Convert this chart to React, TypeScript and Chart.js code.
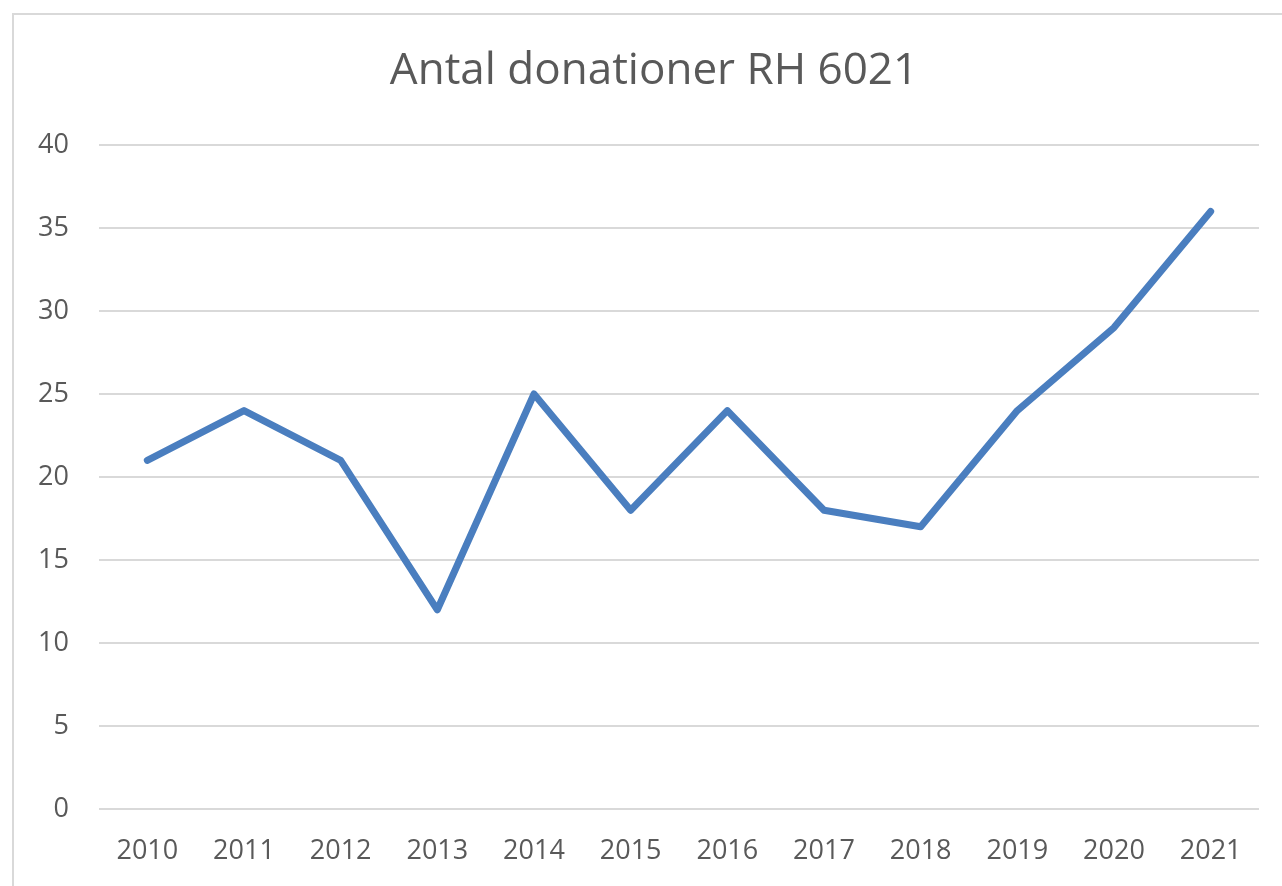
import React, { useEffect, useRef } from "react";
import { Chart, registerables } from "chart.js";

Chart.register(...registerables);

const years = ["2010", "2011", "2012", "2013", "2014", "2015", "2016", "2017", "2018", "2019", "2020", "2021"];
const donations = [21, 24, 21, 12, 25, 18, 24, 18, 17, 24, 29, 36];
const yTicks = [0, 5, 10, 15, 20, 25, 30, 35, 40];
const title = "Antal donationer RH 6021";

const centeredTitle = {
  id: "centeredTitle",
  afterDraw(chart: any) {
    const ctx = chart.ctx;
    ctx.save();
    ctx.font = "normal 44px 'Open Sans'";
    ctx.fillStyle = "#595959";
    ctx.textAlign = "center";
    ctx.textBaseline = "middle";
    ctx.fillText(title, chart.width / 2, 56);
    ctx.restore();
  },
};

export default function App() {
  const ref = useRef<HTMLCanvasElement | null>(null);
  useEffect(() => {
    if (!ref.current) return;
    const chart = new Chart(ref.current, {
      type: "line",
      data: {
        labels: years,
        datasets: [
          {
            data: donations,
            borderColor: "#4A7EBF",
            borderWidth: 7,
            pointRadius: 0,
            borderCapStyle: "round",
            borderJoinStyle: "round",
            tension: 0,
            fill: false,
          },
        ],
      },
      options: {
        animation: false,
        responsive: false,
        maintainAspectRatio: false,
        layout: { padding: { left: 0, right: 35, top: 130, bottom: 0 } },
        plugins: {
          legend: { display: false },
          tooltip: { enabled: false },
          title: { display: false },
        },
        scales: {
          x: {
            type: "category",
            offset: true,
            grid: { display: false, drawTicks: false },
            border: { display: false },
            ticks: {
              color: "#595959",
              font: { family: "'Open Sans'", size: 27 },
              padding: 26,
              maxRotation: 0,
              autoSkip: false,
            },
            afterFit: (s: any) => {
              s.height = 92;
            },
          },
          y: {
            min: 0,
            max: 40,
            afterBuildTicks: (s: any) => {
              s.ticks = yTicks.map((v) => ({ value: v }));
            },
            grid: { color: "#d9d9d9", lineWidth: 2, drawTicks: false },
            border: { display: false },
            ticks: {
              color: "#595959",
              font: { family: "'Open Sans'", size: 27 },
              padding: 30,
            },
            afterFit: (s: any) => {
              s.width = 85;
            },
          },
        },
      },
      plugins: [centeredTitle],
    });
    return () => chart.destroy();
  }, []);
  return (
    <div
      style={{
        position: "fixed",
        left: 12,
        top: 13,
        width: 1284,
        height: 890,
        border: "2px solid #d9d9d9",
        boxSizing: "border-box",
        background: "#fff",
      }}
    >
      <canvas ref={ref} width={1280} height={886} style={{ display: "block", width: 1280, height: 886 }} />
    </div>
  );
}
